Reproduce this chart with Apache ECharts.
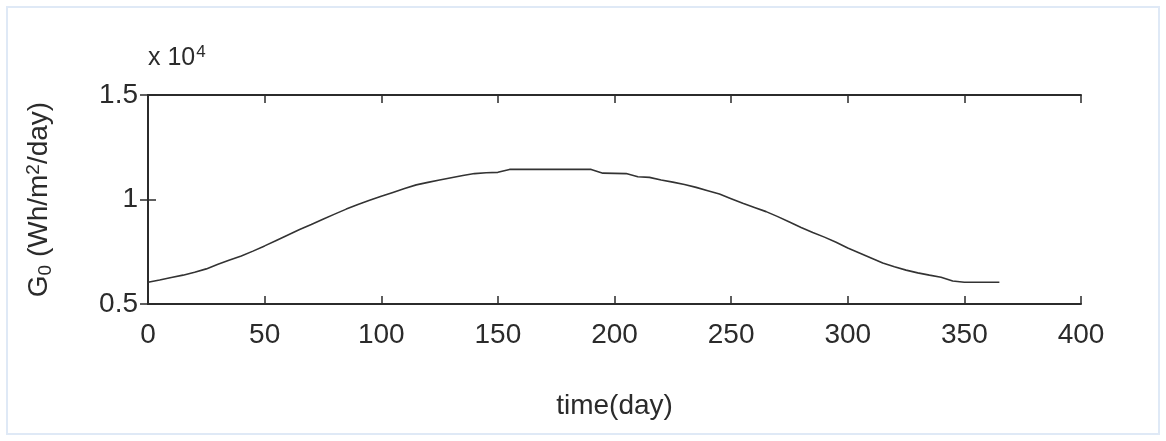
<!DOCTYPE html>
<html>
<head>
<meta charset="utf-8">
<script src="https://cdn.jsdelivr.net/npm/echarts@6/dist/echarts.min.js"></script>
<style>
  html, body { margin: 0; padding: 0; background: #fff; }
  #frame {
    position: absolute; left: 6px; top: 6px; width: 1150px; height: 425px;
    border: 2px solid #dfe9f6;
  }
  #chart { position: absolute; left: 0; top: 0; width: 1166px; height: 441px; }
</style>
</head>
<body>
<div id="frame"></div>
<div id="chart"></div>
<script>
// day of year
const days = [
  0, 5, 10, 15, 20, 25, 30, 35, 40, 45, 50, 55, 60, 65, 70, 75, 80, 85, 90, 95,
  100, 105, 110, 115, 120, 125, 130, 135, 140, 145, 150, 155, 160, 165, 170, 175,
  180, 185, 190, 195, 200, 205, 210, 215, 220, 225, 230, 235, 240, 245, 250, 255,
  260, 265, 270, 275, 280, 285, 290, 295, 300, 305, 310, 315, 320, 325, 330, 335,
  340, 345, 350, 355, 360, 365
]
// G0 in Wh/m2/day
const g0 = [
  6040, 6150, 6270, 6380, 6520, 6680, 6900, 7100, 7300, 7530, 7780, 8040, 8300, 8560, 8800, 9050, 9300, 9540, 9760, 9960,
  10150, 10340, 10530, 10700, 10820, 10930, 11040, 11150, 11240, 11280, 11300, 11440, 11440, 11440, 11440, 11440,
  11440, 11440, 11440, 11260, 11250, 11240, 11090, 11060, 10930, 10830, 10720, 10580, 10420, 10260, 10040, 9820,
  9620, 9420, 9180, 8920, 8660, 8420, 8200, 7950, 7680, 7440, 7200, 6960, 6780, 6620, 6490, 6380,
  6280, 6100, 6040, 6040, 6040, 6040
]
const xTicks = [0, 50, 100, 150, 200, 250, 300, 350, 400]
const yTicks = [0.5, 1, 1.5]

const font = "'Liberation Sans Narrow', 'Arial Narrow', 'Liberation Sans', sans-serif"
const ink = "#2b2b2b"

const chart = echarts.init(document.getElementById("chart"))

const boxAxis = {
  axisLine: { show: true, lineStyle: { color: ink, width: 2 } },
  axisTick: { show: true, inside: true, length: 8, lineStyle: { color: ink, width: 1.5 } },
  splitLine: { show: false },
}

const option = {
  animation: false,
  title: {
    text: "x 10{sup|4}",
    left: 148,
    top: 44,
    padding: 0,
    textStyle: {
      fontFamily: font, fontSize: 25, fontWeight: "normal", color: ink,
      rich: { sup: { fontFamily: font, fontSize: 17, color: ink, padding: [0, 0, 12, 1] } },
    },
  },
  grid: { left: 148, right: 85, top: 95, bottom: 137 },
  xAxis: [
    {
      type: "value",
      min: xTicks[0],
      max: xTicks[xTicks.length - 1],
      interval: 50,
      position: "bottom",
      ...boxAxis,
      axisLabel: { fontFamily: font, fontSize: 28, color: ink, margin: 17 },
      name: "time(day)",
      nameLocation: "middle",
      nameGap: 88,
      nameTextStyle: { fontFamily: font, fontSize: 28, color: ink },
    },
    {
      type: "value",
      min: xTicks[0],
      max: xTicks[xTicks.length - 1],
      interval: 50,
      position: "top",
      ...boxAxis,
      axisLabel: { show: false },
    },
  ],
  yAxis: [
    {
      type: "value",
      min: yTicks[0] * 1e4,
      max: yTicks[yTicks.length - 1] * 1e4,
      interval: 5000,
      position: "left",
      ...boxAxis,
      axisLabel: {
        fontFamily: font, fontSize: 28, color: ink, margin: 10,
        formatter: (v) => String(v / 1e4),
      },
      name: "G{sub|0} (Wh/m{sup|2}/day)",
      nameLocation: "middle",
      nameRotate: 90,
      nameGap: 93,
      nameTextStyle: {
        fontFamily: font, fontSize: 28, color: ink,
        rich: {
          sub: { fontFamily: font, fontSize: 19, color: ink, padding: [12, 0, 0, 0] },
          sup: { fontFamily: font, fontSize: 19, color: ink, padding: [0, 0, 12, 0] },
        },
      },
    },
    {
      type: "value",
      min: yTicks[0] * 1e4,
      max: yTicks[yTicks.length - 1] * 1e4,
      interval: 5000,
      position: "right",
      ...boxAxis,
      axisLabel: { show: false },
    },
  ],
  series: [
    {
      name: "G0",
      type: "line",
      data: days.map((d, i) => [d, g0[i]]),
      showSymbol: false,
      lineStyle: { color: "#333", width: 1.6 },
    },
  ],
}

chart.setOption(option)
</script>
</body>
</html>
